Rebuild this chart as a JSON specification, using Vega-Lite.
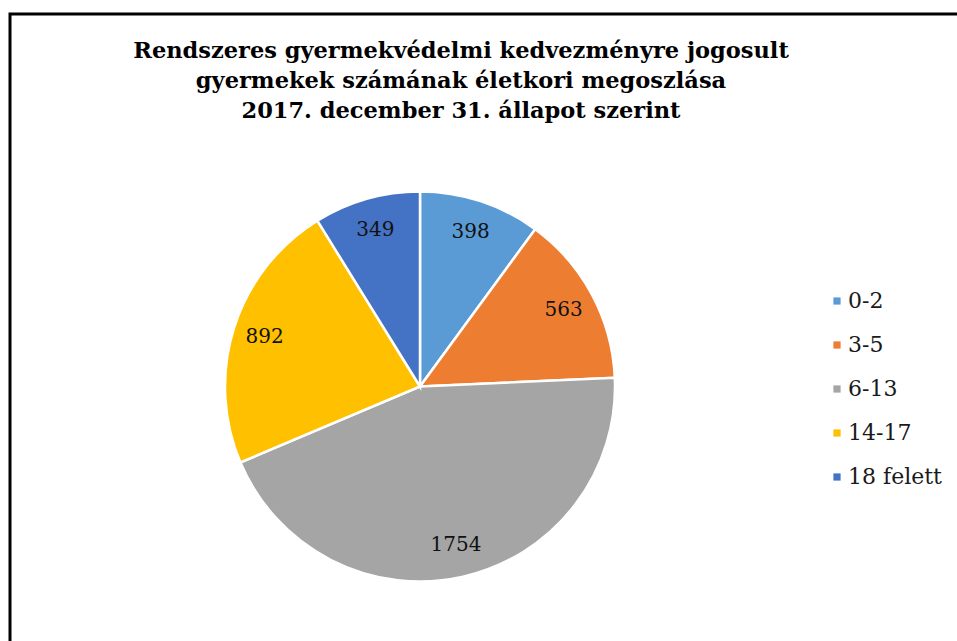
{
  "$schema": "https://vega.github.io/schema/vega-lite/v6.json",
  "width": 950,
  "height": 630,
  "autosize": {"type": "none"},
  "padding": {"left": 10, "top": 14, "right": 0, "bottom": 0},
  "background": "white",
  "config": {"view": {"stroke": null}},
  "title": {
    "text": ["Rendszeres gyermekvédelmi kedvezményre jogosult", "gyermekek számának életkori megoszlása", "2017. december 31. állapot szerint"],
    "font": "DejaVu Serif",
    "fontSize": 22.5,
    "fontWeight": "bold",
    "color": "#000000",
    "lineHeight": 30,
    "anchor": "middle",
    "frame": "group",
    "offset": -110,
    "dx": -24
  },
  "layer": [
    {
      "data": {"values": [{}]},
      "mark": {"type": "rect", "fillOpacity": 0, "stroke": "#000000", "strokeWidth": 3},
      "encoding": {}
    },
    {
      "data": {"values": [
        {"age": "0-2", "count": 398},
        {"age": "3-5", "count": 563},
        {"age": "6-13", "count": 1754},
        {"age": "14-17", "count": 892},
        {"age": "18 felett", "count": 349}
      ]},
      "transform": [{"window": [{"op": "row_number", "as": "rank"}]}],
      "layer": [
        {
          "mark": {"type": "arc", "outerRadius": 195, "stroke": "white", "strokeWidth": 2.5, "xOffset": -65, "yOffset": 57.5},
          "encoding": {
            "theta": {"field": "count", "type": "quantitative", "stack": true},
            "order": {"field": "rank", "type": "quantitative"},
            "color": {
              "field": "age",
              "type": "nominal",
              "sort": ["0-2", "3-5", "6-13", "14-17", "18 felett"],
              "scale": {"domain": ["0-2", "3-5", "6-13", "14-17", "18 felett"], "range": ["#5B9BD5", "#ED7D31", "#A5A5A5", "#FFC000", "#4472C4"]},
              "legend": {
                "title": null,
                "orient": "none",
                "legendX": 816,
                "legendY": 276,
                "padding": 0,
                "symbolType": "square",
                "symbolSize": 52,
                "symbolStrokeWidth": 0,
                "labelFont": "DejaVu Serif",
                "labelFontSize": 22,
                "labelColor": "#1a1a1a",
                "labelOffset": 0,
                "rowPadding": 22
              }
            }
          }
        },
        {
          "mark": {"type": "text", "radius": 163, "font": "DejaVu Serif", "fontSize": 20, "color": "#111111", "xOffset": -65, "yOffset": 57.5},
          "encoding": {
            "theta": {"field": "count", "type": "quantitative", "stack": true},
            "order": {"field": "rank", "type": "quantitative"},
            "detail": {"field": "age", "type": "nominal"},
            "text": {"field": "count", "type": "quantitative"}
          }
        }
      ]
    }
  ]
}
